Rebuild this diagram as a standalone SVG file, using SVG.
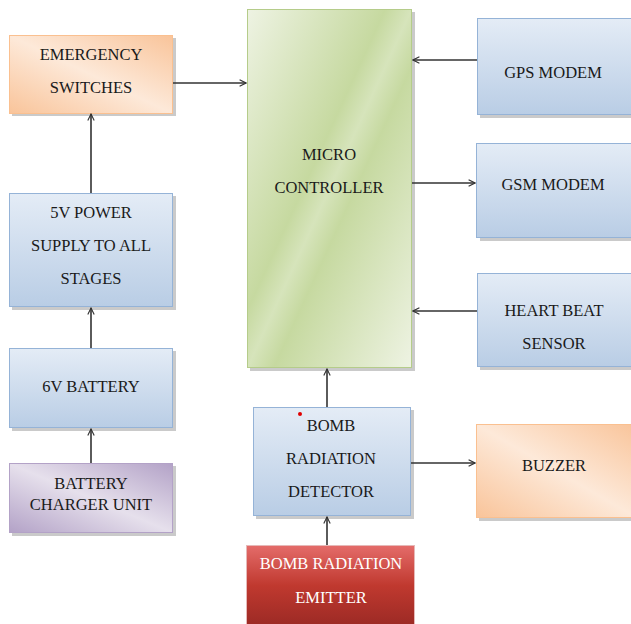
<svg xmlns="http://www.w3.org/2000/svg" width="631" height="624" viewBox="0 0 631 624" font-family="'Liberation Serif', 'DejaVu Serif', serif">
<style>
text{font-family:'Liberation Serif','DejaVu Serif',serif;font-size:16.5px;fill:#1a1a1a;text-anchor:middle}
.w{fill:#ffffff}
.box{stroke-width:1}
.blue{fill:url(#gBlue);stroke:#95b3d7}
.orange{fill:url(#gOrange);stroke:#fac090}
.green{fill:url(#gGreen);stroke:#b5cc8a}
.purple{fill:url(#gPurple);stroke:#b3a2c7}
.red{fill:url(#gRed);stroke:#e6b9b8}
.sh{fill:#a6a6a6;opacity:0.6}
.c line{stroke:#333;stroke-width:1.6;marker-end:url(#arr)}
</style>
<defs>
<marker id="arr" viewBox="0 0 10 10" refX="9" refY="5" markerWidth="8" markerHeight="8" markerUnits="userSpaceOnUse" orient="auto">
<path d="M1,1 L9,5 L1,9" fill="none" stroke="#333" stroke-width="1.4"/>
</marker>
<linearGradient id="gBlue" x1="0" y1="0" x2="0" y2="1"><stop offset="0" stop-color="#e4ecf6"/><stop offset="1" stop-color="#b9cde5"/></linearGradient>
<linearGradient id="gOrange" x1="0" y1="1" x2="1" y2="0"><stop offset="0" stop-color="#f9c49a"/><stop offset="0.5" stop-color="#fde9d9"/><stop offset="1" stop-color="#f9c49a"/></linearGradient>
<linearGradient id="gGreen" x1="0" y1="0" x2="1" y2="1"><stop offset="0" stop-color="#eef3e3"/><stop offset="0.42" stop-color="#c6d9a0"/><stop offset="0.5" stop-color="#d6e4bb"/><stop offset="0.58" stop-color="#c6d9a0"/><stop offset="1" stop-color="#eef3e3"/></linearGradient>
<linearGradient id="gPurple" x1="0" y1="1" x2="1" y2="0"><stop offset="0" stop-color="#b3a2c7"/><stop offset="0.5" stop-color="#e6e0ec"/><stop offset="1" stop-color="#b3a2c7"/></linearGradient>
<linearGradient id="gRed" x1="0" y1="0" x2="0" y2="1"><stop offset="0" stop-color="#e46c6a"/><stop offset="0.5" stop-color="#c0392f"/><stop offset="1" stop-color="#9c2a25"/></linearGradient>
</defs>
<rect width="631" height="624" fill="#ffffff"/>

<g id="emergency">
<rect class="sh" x="12" y="38" width="164" height="78"/>
<rect class="box orange" x="9.5" y="35.5" width="163" height="78"/>
<text x="91" y="60">EMERGENCY</text>
<text x="91" y="93">SWITCHES</text>
</g>

<g id="power">
<rect class="sh" x="12" y="196" width="164" height="114"/>
<rect class="box blue" x="9.5" y="193.5" width="163" height="113"/>
<text x="91" y="218">5V POWER</text>
<text x="91" y="251">SUPPLY TO ALL</text>
<text x="91" y="284">STAGES</text>
</g>

<g id="battery">
<rect class="sh" x="12" y="351" width="164" height="80"/>
<rect class="box blue" x="9.5" y="348.5" width="163" height="79"/>
<text x="91" y="392">6V BATTERY</text>
</g>

<g id="charger">
<rect class="sh" x="12" y="466" width="164" height="70"/>
<rect class="box purple" x="9.5" y="463.5" width="163" height="69"/>
<text x="91" y="489">BATTERY</text>
<text x="91" y="510">CHARGER UNIT</text>
</g>

<g id="micro">
<rect class="sh" x="250" y="12" width="165" height="359"/>
<rect class="box green" x="247.5" y="9.5" width="164" height="358"/>
<text x="329" y="160">MICRO</text>
<text x="329" y="193">CONTROLLER</text>
</g>

<g id="gps">
<rect class="sh" x="480" y="21" width="160" height="97"/>
<rect class="box blue" x="477.5" y="18.5" width="160" height="96"/>
<text x="553" y="78">GPS MODEM</text>
</g>

<g id="gsm">
<rect class="sh" x="480" y="146" width="160" height="95"/>
<rect class="box blue" x="476.5" y="143.5" width="160" height="94"/>
<text x="553" y="190">GSM MODEM</text>
</g>

<g id="heart">
<rect class="sh" x="480" y="276" width="160" height="94"/>
<rect class="box blue" x="477.5" y="273.5" width="160" height="93"/>
<text x="554" y="316">HEART BEAT</text>
<text x="554" y="349">SENSOR</text>
</g>

<g id="detector">
<rect class="sh" x="256" y="410" width="158" height="109"/>
<rect class="box blue" x="253.5" y="407.5" width="157" height="108"/>
<circle cx="300" cy="414" r="2" fill="#e00000"/>
<text x="331" y="431">BOMB</text>
<text x="331" y="464">RADIATION</text>
<text x="331" y="497">DETECTOR</text>
</g>

<g id="buzzer">
<rect class="sh" x="479" y="427" width="160" height="94"/>
<rect class="box orange" x="476.5" y="424.5" width="160" height="93"/>
<text x="554" y="471">BUZZER</text>
</g>

<g id="emitter">
<rect class="box red" x="246.5" y="545.5" width="168" height="80"/>
<text class="w" x="331" y="569">BOMB RADIATION</text>
<text class="w" x="331" y="603">EMITTER</text>
</g>

<g id="connectors" class="c">
<line x1="173" y1="83" x2="246" y2="83"/>
<line x1="91" y1="193" x2="91" y2="114"/>
<line x1="91" y1="348" x2="91" y2="308"/>
<line x1="91" y1="463" x2="91" y2="429"/>
<line x1="477" y1="60" x2="413" y2="60"/>
<line x1="412" y1="183" x2="475" y2="183"/>
<line x1="477" y1="311" x2="413" y2="311"/>
<line x1="327" y1="407" x2="327" y2="369"/>
<line x1="411" y1="463" x2="475" y2="463"/>
<line x1="327" y1="545" x2="327" y2="517"/>
</g>
</svg>
